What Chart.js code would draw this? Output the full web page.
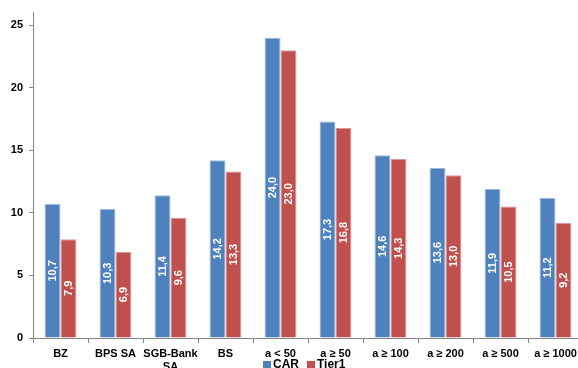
<!DOCTYPE html>
<html>
<head>
<meta charset="utf-8">
<script src="https://cdn.jsdelivr.net/npm/chart.js@4/dist/chart.umd.min.js"></script>
<style>
  html, body { margin: 0; padding: 0; background: #fff; overflow: hidden; }
  #wrap { width: 578px; height: 368px; overflow: hidden; position: relative; }
  #box { width: 592px; height: 378px; position: absolute; left: 0; top: 0; }
</style>
</head>
<body>
<div id="wrap"><div id="box"><canvas id="chart"></canvas></div></div>
<script>
const categories = ["BZ", "BPS SA", ["SGB-Bank", "SA"], "BS", "a < 50", "a \u2265 50", "a \u2265 100", "a \u2265 200", "a \u2265 500", "a \u2265 1000"];
const carValues = [10.7, 10.3, 11.4, 14.2, 24.0, 17.3, 14.6, 13.6, 11.9, 11.2];
const tier1Values = [7.9, 6.9, 9.6, 13.3, 23.0, 16.8, 14.3, 13.0, 10.5, 9.2];
const yTicks = [0, 5, 10, 15, 20, 25];
const seriesNames = ["CAR", "Tier1"];
const seriesColors = ["#4F81BD", "#C0504D"];
const seriesEdges = ["#9DB8DC", "#DC9896"];

const FONT = "'Liberation Sans', Arial, sans-serif";
const AXIS = "#868686";

const formatValue = (v) => v.toFixed(1).replace(".", ",");

// white rotated labels in the middle of every bar
const barLabels = {
  id: "barLabels",
  afterDatasetsDraw(chart) {
    const ctx = chart.ctx;
    ctx.save();
    ctx.fillStyle = "#fff";
    ctx.font = `bold 11px ${FONT}`;
    ctx.textAlign = "center";
    ctx.textBaseline = "middle";
    chart.data.datasets.forEach((ds, i) => {
      chart.getDatasetMeta(i).data.forEach((bar, j) => {
        const cy = (bar.y + bar.base) / 2;
        ctx.save();
        ctx.translate(bar.x + 0.5, cy);
        ctx.rotate(-Math.PI / 2);
        ctx.fillText(formatValue(ds.data[j]), 0, 0);
        ctx.restore();
      });
    });
    ctx.restore();
  },
};

// legend sits on top of the x labels, like the original
const bottomLegend = {
  id: "bottomLegend",
  afterDraw(chart) {
    const ctx = chart.ctx;
    ctx.save();
    ctx.font = `bold 12px ${FONT}`;
    ctx.textBaseline = "middle";
    let x = 263;
    const y = 365;
    seriesNames.forEach((name, i) => {
      ctx.fillStyle = seriesColors[i];
      ctx.fillRect(x, y - 4, 8, 8);
      ctx.fillStyle = "#000";
      ctx.fillText(name, x + 10, y);
      x += 10 + ctx.measureText(name).width + 8;
    });
    ctx.restore();
  },
};

new Chart(document.getElementById("chart"), {
  type: "bar",
  data: {
    labels: categories,
    datasets: seriesNames.map((name, i) => ({
      label: name,
      data: i === 0 ? carValues : tier1Values,
      backgroundColor: seriesColors[i],
      borderColor: seriesEdges[i],
      borderWidth: { top: 1, left: 1, right: 1, bottom: 0 },
      categoryPercentage: 0.58,
      barPercentage: 1.0,
    })),
  },
  options: {
    responsive: true,
    maintainAspectRatio: false,
    animation: false,
    layout: { padding: { top: 10, right: 9, left: 0, bottom: 0 } },
    plugins: {
      legend: { display: false },
      tooltip: { enabled: false },
    },
    scales: {
      x: {
        afterFit: (scale) => { scale.height = 40; },
        grid: {
          offset: true,
          drawOnChartArea: false,
          drawTicks: true,
          tickLength: 5,
          color: AXIS,
        },
        border: { color: AXIS, width: 1 },
        ticks: {
          color: "#000",
          font: { family: FONT, size: 11, weight: "bold" },
          padding: 4,
          maxRotation: 0,
          autoSkip: false,
        },
      },
      y: {
        min: 0,
        max: 26,
        afterFit: (scale) => { scale.width = 33; },
        afterBuildTicks: (scale) => {
          scale.ticks = yTicks.map((value) => ({ value }));
        },
        grid: {
          drawOnChartArea: false,
          drawTicks: true,
          tickLength: 4,
          color: AXIS,
        },
        border: { color: AXIS, width: 1 },
        ticks: {
          color: "#000",
          font: { family: FONT, size: 11, weight: "bold" },
          padding: 6,
        },
      },
    },
  },
  plugins: [barLabels, bottomLegend],
});
</script>
</body>
</html>
